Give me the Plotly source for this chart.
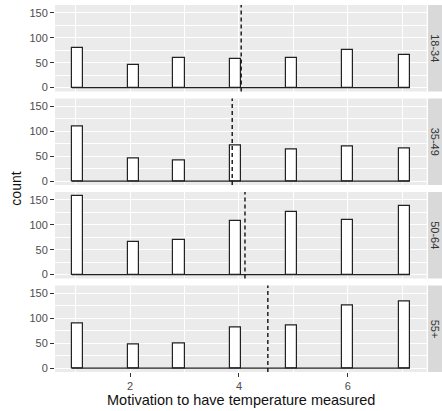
import math
import plotly.graph_objects as go

# ---- data ----
levels = [1, 2, 3, 4, 5, 6, 7]
groups = ["18-34", "35-49", "50-64", "55+"]
counts_18_34 = [80, 45, 60, 57, 60, 75, 66]
counts_35_49 = [109, 45, 42, 72, 63, 70, 66]
counts_50_64 = [158, 65, 69, 107, 126, 109, 138]
counts_55p = [90, 47, 50, 81, 85, 126, 134]
x_ticks = [2, 4, 6]
x_minor = [1, 3, 5, 7]
y_ticks = [0, 50, 100, 150]
y_minor = [25, 75, 125]
x_title = "Motivation to have temperature measured"
y_title = "count"

all_counts = [counts_18_34, counts_35_49, counts_50_64, counts_55p]

# ---- ggplot-like binning (30 bins) ----
nbins = 30
lo, hi = min(levels), max(levels)
bw = (hi - lo) / (nbins - 1)
boundary = bw / 2
origin = boundary + math.floor((lo - boundary) / bw) * bw
edges = [origin + k * bw for k in range(nbins + 1)]


def bin_center(v):
    idx = math.ceil((v - origin) / bw - 1e-7) - 1
    return origin + (idx + 0.5) * bw


centers = [bin_center(v) for v in levels]
span = edges[-1] - edges[0]
x_range = [edges[0] - 0.05 * span, edges[-1] + 0.05 * span]
ymax = max(max(c) for c in all_counts)
y_range = [-0.05 * ymax, 1.05 * ymax]

# ---- layout geometry ----
W, H = 442, 411
ml, mr, mt, mb = 55, 0, 5, 39
pw, ph = W - ml - mr, H - mt - mb
panel_h, gap = 86.5, 7
x_dom_end = 371.7 / pw

FONT = "Liberation Sans, Arial, sans-serif"
fig = go.Figure()
shapes = []
annotations = []

for i, (g, counts) in enumerate(zip(groups, all_counts)):
    n = i + 1
    xa = "x" if n == 1 else f"x{n}"
    ya = "y" if n == 1 else f"y{n}"
    top = i * (panel_h + gap)
    dom = [1 - (top + panel_h) / ph, 1 - top / ph]

    # zero-count bins outline
    fig.add_trace(go.Scatter(x=[edges[0], edges[-1]], y=[0, 0], mode="lines",
                             line=dict(color="#222222", width=1.2),
                             xaxis=xa, yaxis=ya, showlegend=False, hoverinfo="skip"))
    fig.add_trace(go.Bar(x=centers, y=counts, width=bw,
                         marker=dict(color="white", line=dict(color="#222222", width=1.2)),
                         xaxis=xa, yaxis=ya, showlegend=False))

    mean = sum(l * c for l, c in zip(levels, counts)) / sum(counts)
    shapes.append(dict(type="line", xref=xa, yref=f"{ya} domain", x0=mean, x1=mean,
                       y0=0, y1=1, line=dict(color="#111111", width=1.4, dash="4px,3px")))
    # strip
    shapes.append(dict(type="rect", xref="paper", yref="paper", x0=0.964, x1=1.0,
                       y0=dom[0], y1=dom[1], fillcolor="#D9D9D9", line=dict(width=0),
                       layer="below"))
    annotations.append(dict(text=g, xref="paper", yref="paper", x=0.982,
                            y=(dom[0] + dom[1]) / 2, textangle=90, showarrow=False,
                            font=dict(size=11, color="#333333", family=FONT),
                            xanchor="center", yanchor="middle"))

    last = (n == len(groups))
    xaxis = dict(domain=[0, x_dom_end], anchor=ya, range=x_range,
                 tickvals=x_ticks, showticklabels=last,
                 ticks="outside" if last else "", ticklen=4, tickcolor="#333333",
                 tickfont=dict(size=11, color="#4D4D4D", family=FONT),
                 showgrid=True, gridcolor="white", gridwidth=1.1,
                 minor=dict(tickvals=x_minor, showgrid=True, gridcolor="white",
                            gridwidth=0.5, ticks=""),
                 zeroline=False, showline=False, fixedrange=True)
    if n > 1:
        xaxis["matches"] = "x"
    yaxis = dict(domain=dom, anchor=xa, range=y_range, tickvals=y_ticks,
                 ticks="outside", ticklen=4, tickcolor="#333333",
                 tickfont=dict(size=11, color="#4D4D4D", family=FONT),
                 showgrid=True, gridcolor="white", gridwidth=1.1,
                 minor=dict(tickvals=y_minor, showgrid=True, gridcolor="white",
                            gridwidth=0.5, ticks=""),
                 zeroline=False, showline=False, fixedrange=True)
    fig.update_layout(**{("xaxis" if n == 1 else f"xaxis{n}"): xaxis,
                         ("yaxis" if n == 1 else f"yaxis{n}"): yaxis})

annotations.append(dict(text=y_title, xref="paper", yref="paper", x=-0.103, y=0.5,
                        textangle=-90, showarrow=False, xanchor="center", yanchor="middle",
                        font=dict(size=14, color="#111111", family=FONT)))
annotations.append(dict(text=x_title, xref="paper", yref="paper", x=x_dom_end / 2,
                        y=-(400 - (mt + ph)) / ph, showarrow=False, xanchor="center",
                        yanchor="middle", font=dict(size=14.5, color="#111111", family=FONT)))

fig.update_layout(width=W, height=H, margin=dict(l=ml, r=mr, t=mt, b=mb),
                  plot_bgcolor="#EBEBEB", paper_bgcolor="white",
                  shapes=shapes, annotations=annotations, bargap=0,
                  font=dict(family=FONT))

fig.write_html("out.html")
